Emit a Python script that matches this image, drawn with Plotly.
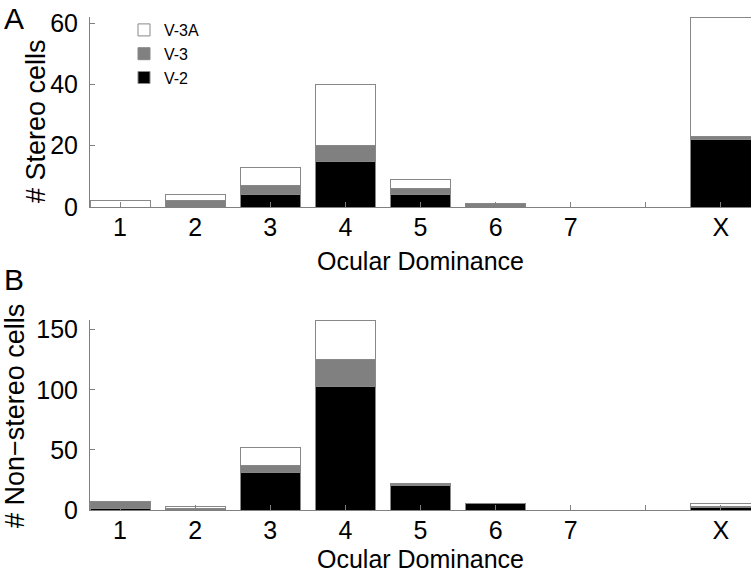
import plotly.graph_objects as go

# ---- data ----
od_labels = ["1", "2", "3", "4", "5", "6", "7", "X"]
od_pos = [1, 2, 3, 4, 5, 6, 7, 9]
tick_vals = [1, 2, 3, 4, 5, 6, 7, 8, 9]
tick_text = ["1", "2", "3", "4", "5", "6", "7", "", "X"]

stereo_v2 = [0, 0, 4, 15, 4, 0, 0, 22]
stereo_v3 = [0, 2, 3, 5, 2, 1, 0, 1]
stereo_v3a = [2, 2, 6, 20, 3, 0, 0, 39]

nonstereo_v2 = [1, 0, 31, 103, 20, 5, 0, 2]
nonstereo_v3 = [6, 1, 6, 22, 1, 0, 0, 1]
nonstereo_v3a = [0, 2, 15, 33, 1, 0, 0, 2]

series_names = ["V-2", "V-3", "V-3A"]
series_colors = ["#000000", "#808080", "#ffffff"]

W, H = 753, 573
FONT = "Liberation Sans"
AXC = "#808080"

fig = go.Figure()

panels = [
    ("x", "y", [stereo_v2, stereo_v3, stereo_v3a], True),
    ("x2", "y2", [nonstereo_v2, nonstereo_v3, nonstereo_v3a], False),
]
for xa, ya, vals, show in panels:
    for name, color, v in zip(series_names, series_colors, vals):
        fig.add_trace(go.Bar(
            x=od_pos, y=v, name=name, xaxis=xa, yaxis=ya,
            marker=dict(color=color, line=dict(color="#888888", width=1)),
            showlegend=show,
            customdata=od_labels,
            hovertemplate="OD %{customdata}<br>%{y}<extra>" + name + "</extra>",
        ))


def px_x(p):
    return p / W


def px_y(p):
    return 1 - p / H


xdom = [px_x(90), px_x(751)]
common_x = dict(
    range=[0.6, 9.4], tickmode="array", tickvals=tick_vals, ticktext=tick_text,
    showline=True, linecolor=AXC, linewidth=1, ticks="inside", ticklen=5,
    tickcolor=AXC, showgrid=False, zeroline=False,
    tickfont=dict(family=FONT, size=25, color="black"),
    ticklabelstandoff=-2,
    title=dict(text="Ocular Dominance", font=dict(family=FONT, size=25, color="black"), standoff=12),
    domain=xdom, automargin=False,
)
common_y = dict(
    showline=True, linecolor=AXC, linewidth=1, ticks="inside", ticklen=5,
    tickcolor=AXC, showgrid=False, zeroline=False,
    tickfont=dict(family=FONT, size=25, color="black"),
    automargin=False, ticklabelstandoff=6,
)

fig.update_layout(
    width=W, height=H,
    margin=dict(l=0, r=0, t=0, b=0),
    paper_bgcolor="white", plot_bgcolor="white",
    barmode="stack", bargap=0.2,
    font=dict(family=FONT, color="black"),
    xaxis=dict(**common_x, anchor="y"),
    xaxis2=dict(**common_x, anchor="y2"),
    yaxis=dict(**common_y, anchor="x", domain=[px_y(207), px_y(17)], range=[0, 62],
               tickvals=[0, 20, 40, 60]),
    yaxis2=dict(**common_y, anchor="x2", domain=[px_y(510), px_y(320)], range=[0, 158],
                tickvals=[0, 50, 100, 150]),
    legend=dict(x=px_x(124), y=px_y(13), xanchor="left", yanchor="top",
                traceorder="reversed", bgcolor="rgba(0,0,0,0)",
                font=dict(family=FONT, size=16), itemwidth=30, tracegroupgap=0),
    annotations=[
        dict(text="A", x=px_x(2), y=1, xref="paper", yref="paper",
             xanchor="left", yanchor="top", showarrow=False,
             font=dict(family=FONT, size=30)),
        dict(text="B", x=px_x(2), y=px_y(279), xref="paper", yref="paper",
             xanchor="left", yanchor="middle", showarrow=False,
             font=dict(family=FONT, size=30)),
        dict(text="# Stereo cells", x=px_x(36), y=px_y(121), xref="paper", yref="paper",
             xanchor="center", yanchor="middle", textangle=-90, showarrow=False,
             font=dict(family=FONT, size=27)),
        dict(text="# Non\u2212stereo cells", x=px_x(15), y=px_y(416), xref="paper", yref="paper",
             xanchor="center", yanchor="middle", textangle=-90, showarrow=False,
             font=dict(family=FONT, size=27)),
    ],
)

fig.write_html(
    "out.html",
    config={"displayModeBar": False},
    post_script="document.body.style.margin='0';document.body.style.padding='0';",
)
